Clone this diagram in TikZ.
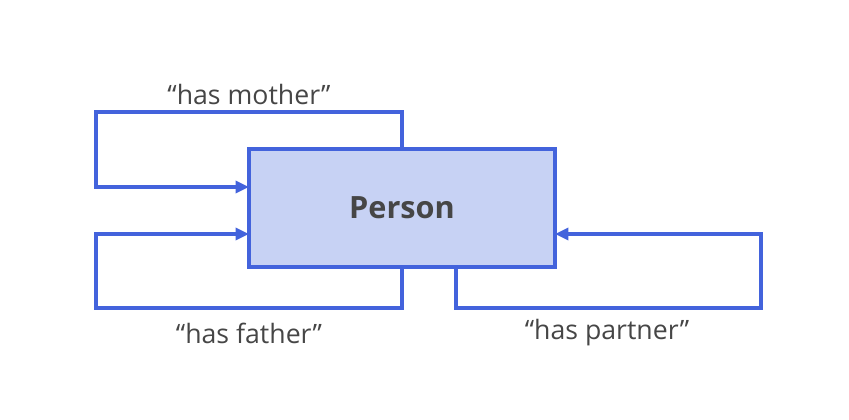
\documentclass[tikz,border=0pt]{standalone}
\usepackage{fontspec}
\setmainfont{Open Sans}
\usetikzlibrary{arrows.meta,positioning}
\definecolor{relblue}{HTML}{4363DC}
\definecolor{boxfill}{HTML}{C7D2F4}
\definecolor{txtgray}{HTML}{464646}
\begin{document}
\begin{tikzpicture}[x=0.75pt,y=-0.75pt,
		rel/.style={draw=relblue,line width=2.4pt,-{Triangle[length=10pt,width=9pt]}},
		entity/.style={rectangle,draw=relblue,line width=2.4pt,fill=boxfill,minimum width=229.5pt,
			minimum height=88.5pt,outer sep=0pt,text=txtgray,font=\fontsize{23}{26}\selectfont\bfseries},
		lbl/.style={text=txtgray,font=\fontsize{20}{24}\selectfont}]
		\useasboundingbox (0,0) rectangle (849,420);
		
		\node[entity] (person) at (402,208) {Person};
		
		\coordinate (m1) at (96,112);
		\coordinate (m2) at (249,187);
		\coordinate (f1) at (96,308);
		\coordinate (f2) at (249,234);
		\coordinate (p0) at (456,267);
		\coordinate (p1) at (761,308);
		\coordinate (p2) at (555,234);
		
		\node[lbl] (mother) at (249,95) {“has mother”};
		\node[lbl] (father) at (249,333) {“has father”};
		\node[lbl] (partner) at (607,333) {“has partner”};
		
		\draw[rel] (person.north) |- (m1) |- (m2);
		\draw[rel] (person.south) |- (f1) |- (f2);
		\draw[rel] (p0) |- (p1) |- (p2);
\end{tikzpicture}
\end{document}
